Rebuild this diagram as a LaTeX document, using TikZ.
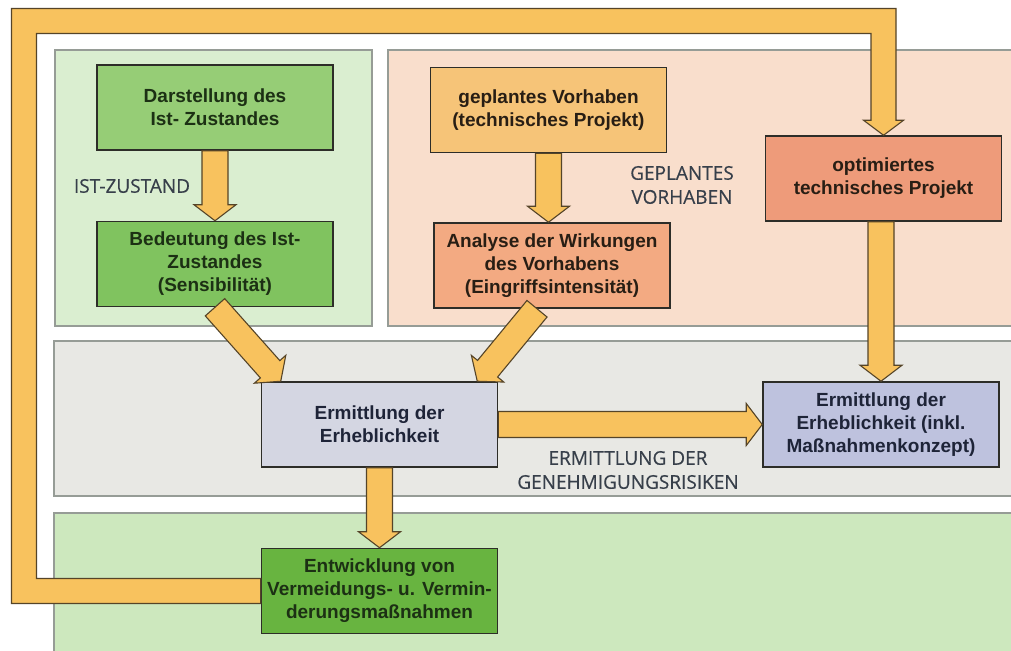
\documentclass[tikz,border=0pt]{standalone}
\usepackage{fontspec}
\setsansfont{Liberation Sans}
\newfontfamily\capfont[FakeBold=0.4]{Open Sans}
\usepackage{tikz}
\usetikzlibrary{positioning,calc}
\definecolor{BoxLine}{RGB}{45,45,40}
\definecolor{PanelLine}{RGB}{150,156,150}
\definecolor{ArrowFill}{RGB}{248,194,94}
\definecolor{ArrowLine}{RGB}{85,68,40}
\definecolor{CapText}{RGB}{55,63,74}
\definecolor{PanelGreen}{RGB}{218,238,208}
\definecolor{PanelPeach}{RGB}{249,222,204}
\definecolor{PanelGrey}{RGB}{232,232,228}
\definecolor{PanelGreenB}{RGB}{205,232,190}
\definecolor{GreenA}{RGB}{150,205,118}
\definecolor{GreenB}{RGB}{128,195,95}
\definecolor{GreenC}{RGB}{104,180,64}
\definecolor{OrangeA}{RGB}{246,196,120}
\definecolor{OrangeB}{RGB}{243,170,130}
\definecolor{OrangeC}{RGB}{238,155,122}
\definecolor{GreyA}{RGB}{212,214,226}
\definecolor{GreyB}{RGB}{190,194,222}
\definecolor{TxtGreen}{RGB}{28,48,20}
\definecolor{TxtBrown}{RGB}{40,30,20}
\definecolor{TxtNavy}{RGB}{30,36,56}

% fat arrow from shaft start #1 to tip #2
\newcommand\fatarrow[2]{%
  \draw[fatarrow] let \p1=(#1), \p2=(#2),
    \n1={atan2(\y2-\y1,\x2-\x1)}, \n2={veclen(\x2-\x1,\y2-\y1)} in
    ($(\p1)+(\n1+90:13)$) -- ($(\p1)+(\n1:\n2-16)+(\n1+90:13)$)
    -- ($(\p1)+(\n1:\n2-16)+(\n1+90:21)$) -- (\p2)
    -- ($(\p1)+(\n1:\n2-16)+(\n1-90:21)$) -- ($(\p1)+(\n1:\n2-16)+(\n1-90:13)$)
    -- ($(\p1)+(\n1-90:13)$) -- cycle;}

\begin{document}
\begin{tikzpicture}[x=1pt,y=1pt,
box/.style={rectangle,draw=BoxLine,line width=1.5pt,minimum width=236pt,minimum height=85pt,inner sep=1pt,align=center,font=\fontsize{19}{23}\selectfont\sffamily\bfseries},
panel/.style={draw=PanelLine,line width=1.2pt},
fatarrow/.style={fill=ArrowFill,draw=ArrowLine,line width=1.1pt,line join=miter},
caption/.style={align=center,text=CapText,font=\capfont\fontsize{19}{24}\selectfont}
]
\path[use as bounding box,fill=white] (0,0) rectangle (1011,650);

% panels
\filldraw[panel,fill=PanelGreen] (55,600) rectangle (372,324);
\filldraw[panel,fill=PanelPeach] (388,600) rectangle (1016,324);
\filldraw[panel,fill=PanelGrey] (54,309) rectangle (1016,154);
\filldraw[panel,fill=PanelGreenB] (54,137) rectangle (1016,-5);

% boxes
\node[box,fill=GreenA,text=TxtGreen] (dar) at (215,542.5) {Darstellung des\\Ist- Zustandes};
\node[box,fill=GreenB,text=TxtGreen,below=70pt of dar] (bed) {Bedeutung des Ist-\\Zustandes\\(Sensibilität)};
\node[box,fill=OrangeA,text=TxtBrown] (gep) at (548.5,540) {geplantes Vorhaben\\(technisches Projekt)};
\node[box,fill=OrangeB,text=TxtBrown,below=69pt of gep,xshift=3.5pt] (ana) {Analyse der Wirkungen\\des Vorhabens\\(Eingriffsintensität)};
\node[box,fill=OrangeC,text=TxtBrown] (opt) at (883.5,471.5) {optimiertes\\technisches Projekt};
\node[box,fill=GreyA,text=TxtNavy] (erm) at (379.5,225.5) {Ermittlung der\\Erheblichkeit};
\node[box,fill=GreyB,text=TxtNavy,right=264pt of erm] (ermr) {Ermittlung der\\Erheblichkeit (inkl.\\Maßnahmenkonzept)};
\node[box,fill=GreenC,text=TxtGreen,below=80pt of erm] (ent) {Entwicklung von\\Vermeidungs- u. Vermin-\\derungsmaßnahmen};

% captions
\node[caption] (cist) at (132,464) {IST-ZUSTAND};
\node[caption] (cgep) at (682,465) {GEPLANTES\\VORHABEN};
\node[caption] (cgen) at (628,180) {ERMITTLUNG DER\\GENEHMIGUNGSRISIKEN};

% arrows
\coordinate (bedtip) at ($(erm.north west)+(20,0)$);
\coordinate (anastart) at ($(ana.south)+(-15,0)$);
\coordinate (anatip) at ($(erm.north east)+(-21,0)$);
\coordinate (loopcorner) at (24,629);
\fatarrow{dar.south}{bed.north}
\fatarrow{gep.south}{gep.south |- ana.north}
\fatarrow{bed.south}{bedtip}
\fatarrow{anastart}{anatip}
\fatarrow{erm.east}{ermr.west}
\fatarrow{erm.south}{ent.north}
\fatarrow{ermr.north |- opt.south}{ermr.north}
% feedback loop
\draw[fatarrow] ($(ent.west)+(0,-12.5)$) -| ($(loopcorner)+(-12.5,12.5)$)
  -| ($(opt.north)+(12.5,15)$) -- ++(7.5,0) -- (opt.north) -- ++(-20,15)
  -- ++(7.5,0) |- ($(loopcorner)+(12.5,-12.5)$) |- ($(ent.west)+(0,12.5)$) -- cycle;
\end{tikzpicture}
\end{document}
